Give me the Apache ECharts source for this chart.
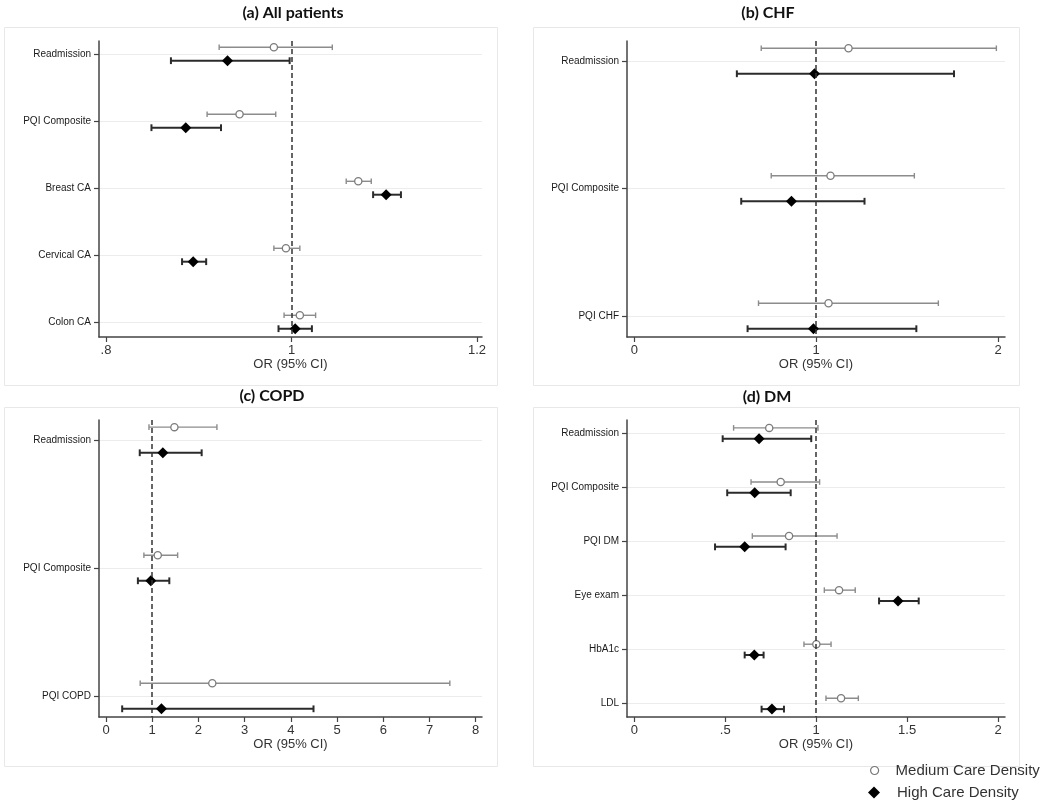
<!DOCTYPE html>
<html><head><meta charset="utf-8">
<script src="https://cdn.jsdelivr.net/npm/echarts@6/dist/echarts.min.js"></script>
<style>html,body{margin:0;padding:0;background:#fff}#c{width:1050px;height:807px}</style>
</head><body><div id="c"></div>
<script>
// ---- (a) All patients ----
const titleA = '(a) All patients';
const catsA = ['Readmission', 'PQI Composite', 'Breast CA', 'Cervical CA', 'Colon CA'];
const medA = [0.981, 0.944, 1.072, 0.994, 1.009];
const medLoA = [0.922, 0.909, 1.059, 0.981, 0.992];
const medHiA = [1.044, 0.983, 1.086, 1.009, 1.026];
const highA = [0.931, 0.886, 1.102, 0.894, 1.004];
const highLoA = [0.870, 0.849, 1.088, 0.882, 0.986];
const highHiA = [0.998, 0.924, 1.118, 0.908, 1.022];
const xTicksA = [0.8, 1, 1.2];
const xTickLabelsA = ['.8', '1', '1.2'];

// ---- (b) CHF ----
const titleB = '(b) CHF';
const catsB = ['Readmission', 'PQI Composite', 'PQI CHF'];
const medB = [1.178, 1.079, 1.068];
const medLoB = [0.698, 0.753, 0.683];
const medHiB = [1.991, 1.540, 1.672];
const highB = [0.991, 0.864, 0.985];
const highLoB = [0.564, 0.588, 0.623];
const highHiB = [1.758, 1.266, 1.551];
const xTicksB = [0, 1, 2];
const xTickLabelsB = ['0', '1', '2'];

// ---- (c) COPD ----
const titleC = '(c) COPD';
const catsC = ['Readmission', 'PQI Composite', 'PQI COPD'];
const medC = [1.48, 1.12, 2.30];
const medLoC = [0.93, 0.82, 0.74];
const medHiC = [2.40, 1.55, 7.44];
const highC = [1.23, 0.97, 1.20];
const highLoC = [0.73, 0.69, 0.35];
const highHiC = [2.07, 1.37, 4.49];
const xTicksC = [0, 1, 2, 3, 4, 5, 6, 7, 8];
const xTickLabelsC = ['0', '1', '2', '3', '4', '5', '6', '7', '8'];

// ---- (d) DM ----
const titleD = '(d) DM';
const catsD = ['Readmission', 'PQI Composite', 'PQI DM', 'Eye exam', 'HbA1c', 'LDL'];
const medD = [0.742, 0.805, 0.851, 1.126, 1.001, 1.137];
const medLoD = [0.546, 0.642, 0.649, 1.045, 0.933, 1.054];
const medHiD = [1.010, 1.019, 1.115, 1.215, 1.082, 1.232];
const highD = [0.686, 0.662, 0.607, 1.450, 0.660, 0.757];
const highLoD = [0.486, 0.511, 0.444, 1.346, 0.607, 0.700];
const highHiD = [0.973, 0.860, 0.832, 1.564, 0.711, 0.823];
const xTicksD = [0, 0.5, 1, 1.5, 2];
const xTickLabelsD = ['0', '.5', '1', '1.5', '2'];

const refLine = 1;
const xAxisName = 'OR (95% CI)';
const medName = 'Medium Care Density';
const highName = 'High Care Density';

// ---- layout (positions / styles only) ----
const panels = [
  {title: titleA, cats: catsA, med: medA, medLo: medLoA, medHi: medHiA, high: highA, highLo: highLoA, highHi: highHiA, xt: xTicksA, xl: xTickLabelsA,
   grid: {left: 99, top: 41, width: 383, height: 296}, xr: [0.79245, 1.2054], yr: [0.806, 5.224],
   box: [4, 27, 493, 358], tpos: [293, 13]},
  {title: titleB, cats: catsB, med: medB, medLo: medLoB, medHi: medHiB, high: highB, highLo: highLoB, highHi: highHiB, xt: xTicksB, xl: xTickLabelsB,
   grid: {left: 627, top: 41, width: 378, height: 296}, xr: [-0.0401, 2.0385], yr: [0.843, 3.165],
   box: [533, 27, 486, 358], tpos: [768, 13]},
  {title: titleC, cats: catsC, med: medC, medLo: medLoC, medHi: medHiC, high: highC, highLo: highLoC, highHi: highHiC, xt: xTicksC, xl: xTickLabelsC,
   grid: {left: 99, top: 420, width: 383, height: 297}, xr: [-0.1515, 8.136], yr: [0.844, 3.164],
   box: [4, 407, 493, 359], tpos: [272, 396]},
  {title: titleD, cats: catsD, med: medD, medLo: medLoD, medHi: medHiD, high: highD, highLo: highLoD, highHi: highHiD, xt: xTicksD, xl: xTickLabelsD,
   grid: {left: 627, top: 420, width: 378, height: 297}, xr: [-0.0401, 2.0385], yr: [0.754, 6.246],
   box: [533, 407, 486, 359], tpos: [767, 397]}
];

const OFF = 0.1;
function makeRender(kind) {
  return function (params, api) {
    const idx = api.value(3);
    const off = kind === 'med' ? -OFF : OFF;
    const p = api.coord([api.value(0), idx + off]);
    const lo = api.coord([api.value(1), idx + off]);
    const hi = api.coord([api.value(2), idx + off]);
    const y = p[1];
    const col = kind === 'med' ? '#8c8c8c' : '#2b2b2b';
    const lw = kind === 'med' ? 1.4 : 2;
    const cap = kind === 'med' ? 2.8 : 3.4;
    const ch = [
      {type: 'line', shape: {x1: lo[0], y1: y, x2: hi[0], y2: y}, style: {stroke: col, lineWidth: lw}},
      {type: 'line', shape: {x1: lo[0], y1: y - cap, x2: lo[0], y2: y + cap}, style: {stroke: col, lineWidth: lw}},
      {type: 'line', shape: {x1: hi[0], y1: y - cap, x2: hi[0], y2: y + cap}, style: {stroke: col, lineWidth: lw}}
    ];
    if (kind === 'med') {
      ch.push({type: 'circle', shape: {cx: p[0], cy: y, r: 3.6}, style: {fill: '#fff', stroke: '#7c7c7c', lineWidth: 1.3}});
    } else {
      const s = 5.5;
      ch.push({type: 'polygon', shape: {points: [[p[0], y - s], [p[0] + s, y], [p[0], y + s], [p[0] - s, y]]}, style: {fill: '#000'}});
    }
    return {type: 'group', children: ch};
  };
}

const grid = [], xAxis = [], yAxis = [], series = [], graphic = [];
panels.forEach((pn, i) => {
  grid.push(Object.assign({containLabel: false}, pn.grid));
  const idxs = pn.cats.map((c, k) => k + 1);
  xAxis.push({
    type: 'value', gridIndex: i, min: pn.xr[0], max: pn.xr[1],
    name: xAxisName, nameLocation: 'middle', nameGap: 19,
    nameTextStyle: {fontFamily: 'Liberation Sans, Arial', fontSize: 13, color: '#333'},
    axisLine: {show: true, onZero: false, lineStyle: {color: '#444', width: 1.5}},
    axisTick: {show: true, length: 5, customValues: pn.xt, lineStyle: {color: '#444', width: 1.2}},
    axisLabel: {customValues: pn.xt, margin: 7, fontFamily: 'Liberation Sans, Arial', fontSize: 13, color: '#333',
      formatter: v => { const k = pn.xt.findIndex(t => Math.abs(t - v) < 1e-9); return k >= 0 ? pn.xl[k] : ''; }},
    splitLine: {show: false}
  });
  yAxis.push({
    type: 'value', gridIndex: i, inverse: true, min: pn.yr[0], max: pn.yr[1],
    axisLine: {show: true, onZero: false, lineStyle: {color: '#444', width: 1.5}},
    axisTick: {show: true, length: 5, customValues: idxs, lineStyle: {color: '#444', width: 1.2}},
    axisLabel: {customValues: idxs, margin: 8, fontFamily: 'Liberation Sans, Arial', fontSize: 10, color: '#1a1a1a',
      formatter: v => pn.cats[Math.round(v) - 1] || ''},
    splitLine: {show: true, lineStyle: {color: '#ececec', width: 1}}
  });
  series.push({
    type: 'custom', name: medName, xAxisIndex: i, yAxisIndex: i, renderItem: makeRender('med'),
    encode: {x: [0, 1, 2], y: 3}, z: 3,
    data: pn.med.map((v, k) => [v, pn.medLo[k], pn.medHi[k], k + 1]),
    markLine: {silent: true, symbol: ['none', 'none'], label: {show: false}, animation: false,
      lineStyle: {color: '#333', type: [5, 3], width: 1.5}, emphasis: {disabled: true},
      data: [{xAxis: refLine}]}
  });
  series.push({
    type: 'custom', name: highName, xAxisIndex: i, yAxisIndex: i, renderItem: makeRender('high'),
    encode: {x: [0, 1, 2], y: 3}, z: 4,
    data: pn.high.map((v, k) => [v, pn.highLo[k], pn.highHi[k], k + 1])
  });
  graphic.push({type: 'rect', silent: true, z: -1, shape: {x: pn.box[0] + 0.5, y: pn.box[1] + 0.5, width: pn.box[2], height: pn.box[3]},
    style: {fill: 'none', stroke: '#e8e8e8', lineWidth: 1}});
  graphic.push({type: 'text', silent: true, x: pn.tpos[0], y: pn.tpos[1],
    style: {text: pn.title, align: 'center', verticalAlign: 'middle', font: 'bold 16px Lato, "Open Sans", sans-serif', fill: '#111'}});
});

const chart = echarts.init(document.getElementById('c'), null, {renderer: 'canvas'});
chart.setOption({
  animation: false,
  backgroundColor: '#fff',
  grid, xAxis, yAxis, series, graphic,
  legend: [
    {data: [{name: medName, icon: 'circle', itemStyle: {color: '#fff', borderColor: '#777', borderWidth: 1.2}}],
     left: 870, top: 763, padding: 0, itemWidth: 8, itemHeight: 8, selectedMode: false,
     textStyle: {fontFamily: 'Liberation Sans, Arial', fontSize: 15, color: '#333', padding: [0, 0, 0, 12]}},
    {data: [{name: highName, icon: 'diamond', itemStyle: {color: '#000'}}],
     left: 868, top: 785, padding: 0, itemWidth: 12, itemHeight: 12, selectedMode: false,
     textStyle: {fontFamily: 'Liberation Sans, Arial', fontSize: 15, color: '#333', padding: [0, 0, 0, 12]}}
  ]
});
</script></body></html>
